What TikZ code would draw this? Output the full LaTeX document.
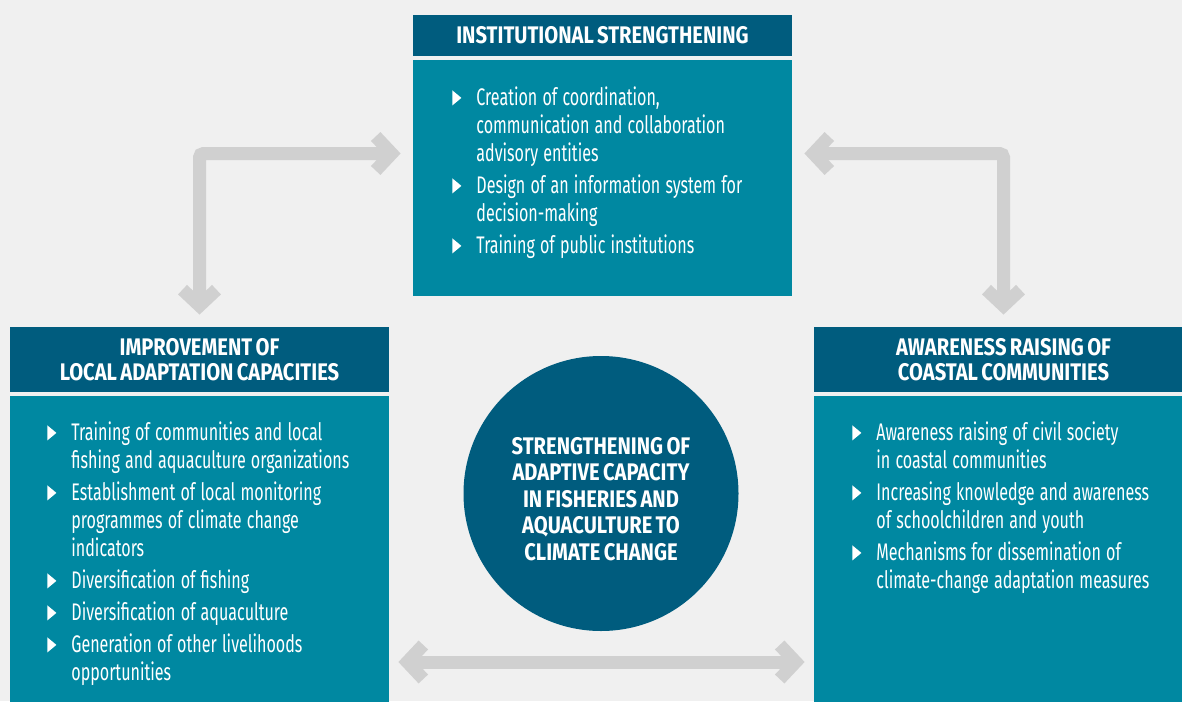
\documentclass[tikz,border=0pt]{standalone}
\usepackage{fontspec}
\setmainfont{Fira Sans}[FakeStretch=0.67]
\newfontfamily\headfont{Fira Sans}[FakeStretch=0.84, WordSpace=0.7]
\usetikzlibrary{arrows.meta}
\definecolor{headblue}{HTML}{005C7E}
\definecolor{bodyteal}{HTML}{0088A1}
\definecolor{paper}{HTML}{F0F0F0}
\definecolor{arrowgray}{HTML}{D0D0D0}
\newcommand\tri{\tikz\fill[white] (0,0) -- (0,7.5pt) -- (4.5pt,3.75pt) -- cycle;}
\newcommand\entry[1]{\par\leftskip=12pt\spaceskip=2.6pt\noindent\llap{\makebox[12pt][l]{\tri}}#1\par\vspace{2pt}}
\begin{document}
\begin{tikzpicture}[x=0.5pt,y=-0.5pt]
  \tikzset{head box/.style={fill=headblue, text=white, minimum width=189.5pt, inner sep=0pt, align=center, font=\headfont\bfseries\fontsize{12}{12.5}\selectfont},
    body box/.style={fill=bodyteal, minimum width=189.5pt, inner sep=0pt},
    item list/.style={text=white, text width=175pt, align=left, inner sep=0pt, anchor=north west, font=\fontsize{12}{14}\selectfont},
    flow/.style={draw=arrowgray, line width=6.5pt, rounded corners=2pt, >={Straight Barb[sharp,length=8pt,width=17pt]}, <->}}
  \useasboundingbox (0,0) rectangle (1182,701);
  \fill[paper] (0,0) rectangle (1182,701);
  \node[head box, minimum height=20.5pt] (tophead) at (602.5,35.5) {INSTITUTIONAL STRENGTHENING};
  \node[body box, minimum height=118pt] (topbody) at (602.5,178) {};
  \node[head box, minimum height=32.5pt] (lefthead) at (199.5,359.5) {IMPROVEMENT OF\\LOCAL ADAPTATION CAPACITIES};
  \node[body box, minimum height=160pt] (leftbody) at (199.5,556) {};
  \node[head box, minimum height=32.5pt] (righthead) at (1003.5,359.5) {AWARENESS RAISING OF\\COASTAL COMMUNITIES};
  \node[body box, minimum height=160pt] (rightbody) at (1003.5,556) {};
  \node[circle, fill=headblue, minimum size=137.5pt, inner sep=0pt] (core) at (601,493.5) {};
  \node[text=white, align=center, font=\headfont\bfseries\fontsize{12}{13.25}\selectfont] (coretext) at (601,499)
    {STRENGTHENING OF\\ADAPTIVE CAPACITY\\IN FISHERIES AND\\AQUACULTURE TO\\CLIMATE CHANGE};
  % bullet lists
  \node[item list] (toplist) at (452,77) {\entry{Creation of coordination,\\communication and collaboration\\advisory entities}\entry{Design of an information system for\\decision-making}\entry{Training of public institutions}};
  \node[item list] (leftlist) at (47,412) {\entry{Training of communities and local\\fishing and aquaculture organizations}\entry{Establishment of local monitoring\\programmes of climate change\\indicators}\entry{Diversification of fishing}\entry{Diversification of aquaculture}\entry{Generation of other livelihoods\\opportunities}};
  \node[item list] (rightlist) at (852,412) {\entry{Awareness raising of civil society\\in coastal communities}\entry{Increasing knowledge and awareness\\of schoolchildren and youth}\entry{Mechanisms for dissemination of\\climate-change adaptation measures}};
  % arrows
  \draw[flow, shorten <=6pt, shorten >=6pt] (lefthead.north) |- (topbody.west |- 0,153.5);
  \draw[flow, shorten <=6pt, shorten >=6pt] (righthead.north) |- (topbody.east |- 0,153.5);
  \draw[flow, shorten <=4.5pt, shorten >=4.5pt] (leftbody.east |- 0,662) -- (rightbody.west |- 0,662);
\end{tikzpicture}
\end{document}
